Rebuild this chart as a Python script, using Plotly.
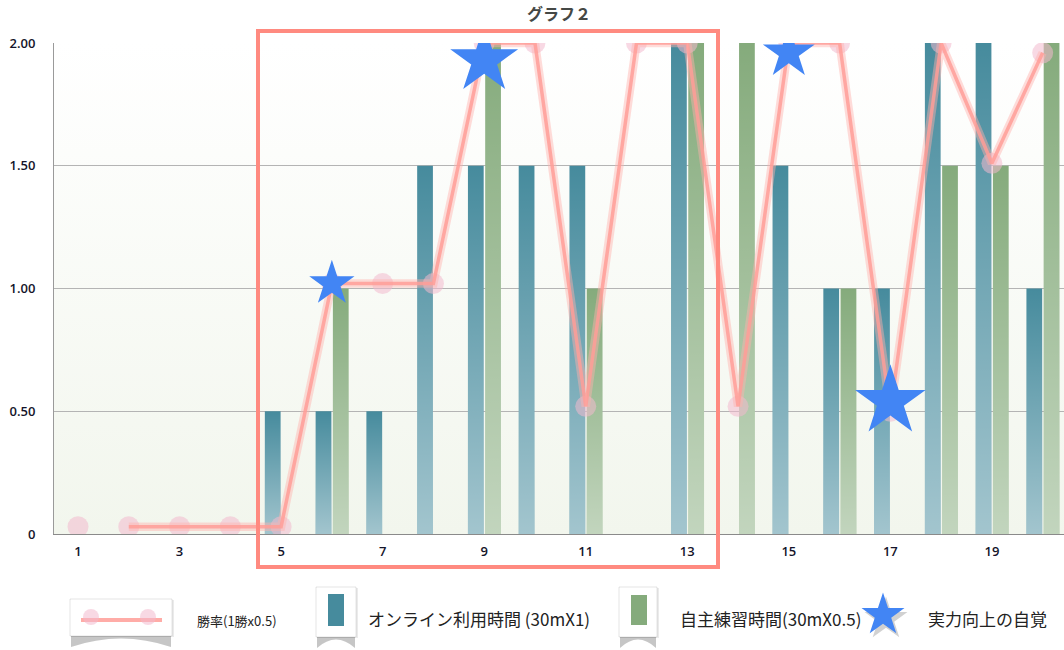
import base64
import math
import plotly.graph_objects as go

# ---- data -------------------------------------------------------------
SESSIONS = list(range(1, 21))
X_TICKS = [1, 3, 5, 7, 9, 11, 13, 15, 17, 19]
Y_TICKS = [0, 0.5, 1.0, 1.5, 2.0]
Y_TICK_TEXT = ["0", "0.50", "1.00", "1.50", "2.00"]

ONLINE_TIME = [0, 0, 0, 0, 0.5, 0.5, 0.5, 1.5, 1.5, 1.5, 1.5, 0, 2, 0, 1.5, 1, 1, 2, 2, 1]
PRACTICE_TIME = [0, 0, 0, 0, 0, 1, 0, 0, 2, 0, 1, 0, 2, 2, 0, 1, 0, 1.5, 1.5, 2]
WIN_RATE = [0.03, 0.03, 0.03, 0.03, 0.03, 1.02, 1.02, 1.02, 2.0, 2.0,
            0.52, 2.0, 2.0, 0.52, 2.0, 2.0, 0.5, 2.0, 1.51, 1.96]

STAR_SESSIONS = [6, 9, 15, 17]
STAR_LEVEL = [1.02, 1.93, 1.96, 0.54]

TITLE = "グラフ２"
LEGEND_LABELS = ["勝率(1勝x0.5)", "オンライン利用時間 (30mX1)", "自主練習時間(30mX0.5)", "実力向上の自覚"]

# ---- styling ----------------------------------------------------------
STAR_SIZES = [34, 51, 39, 53]
BLUE = "rgb(70,139,157)"
GREEN = "rgb(133,171,124)"
PINK_CORE = "rgba(255,158,152,0.85)"
PINK_GLOW = "rgba(255,178,172,0.45)"
PINK_DOT = "rgba(242,185,205,0.55)"
STAR_BLUE = "#4285F4"
BOX_RED = "#FF8A80"
BAR_W = 0.31
BLUE_OFF = -0.32
GREEN_OFF = 0.02
SHEEN = [[0, "rgba(255,255,255,0.5)"], [1, "rgba(255,255,255,0)"]]

W, H = 1064, 650
M_L, M_R, M_T, M_B = 54, 0, 43, 116
PLOT_W = W - M_L - M_R
PLOT_H = H - M_T - M_B
TICK_FONT = dict(family="Open Sans", size=13, color="#14142a", weight=600)
CJK = "Noto Sans CJK JP"


def px(x, y):
    """Pixel position on the page -> paper coordinates."""
    return (x - M_L) / PLOT_W, (H - M_B - y) / PLOT_H


fig = go.Figure()

# bars
fig.add_trace(go.Bar(x=SESSIONS, y=ONLINE_TIME, width=BAR_W, offset=BLUE_OFF,
                     marker=dict(color=BLUE, line=dict(width=0)), showlegend=False,
                     name=LEGEND_LABELS[1]))
fig.add_trace(go.Bar(x=SESSIONS, y=PRACTICE_TIME, width=BAR_W, offset=GREEN_OFF,
                     marker=dict(color=GREEN, line=dict(width=0)), showlegend=False,
                     name=LEGEND_LABELS[2]))


# vertical sheen on each bar (lighter toward the base), grouped by bar height
def add_sheen(values, offset):
    for h in sorted({v for v in values if v > 0}):
        xs, ys = [], []
        for s, v in zip(SESSIONS, values):
            if v == h:
                x0, x1 = s + offset, s + offset + BAR_W
                xs += [x0, x1, x1, x0, x0, None]
                ys += [0, 0, h, h, 0, None]
        fig.add_trace(go.Scatter(x=xs, y=ys, mode="lines", fill="toself",
                                 line=dict(width=0, color="rgba(0,0,0,0)"),
                                 fillgradient=dict(type="vertical", colorscale=SHEEN),
                                 hoverinfo="skip", showlegend=False))


add_sheen(ONLINE_TIME, BLUE_OFF)
add_sheen(PRACTICE_TIME, GREEN_OFF)

# win-rate dots and line
fig.add_trace(go.Scatter(x=SESSIONS, y=WIN_RATE, mode="markers",
                         marker=dict(size=21, color=PINK_DOT, line=dict(width=0)),
                         showlegend=False, hoverinfo="skip"))
fig.add_trace(go.Scatter(x=SESSIONS[1:], y=WIN_RATE[1:], mode="lines",
                         line=dict(color=PINK_GLOW, width=8.5), showlegend=False,
                         hoverinfo="skip"))
fig.add_trace(go.Scatter(x=SESSIONS[1:], y=WIN_RATE[1:], mode="lines",
                         line=dict(color=PINK_CORE, width=3.5), showlegend=False,
                         name=LEGEND_LABELS[0]))

# stars
fig.add_trace(go.Scatter(x=STAR_SESSIONS, y=STAR_LEVEL, mode="markers",
                         marker=dict(symbol="star", size=STAR_SIZES, color=STAR_BLUE,
                                     opacity=1, line=dict(width=0)),
                         showlegend=False, name=LEGEND_LABELS[3]))

# ---- plot background gradient -----------------------------------------
bg_svg = ('<svg xmlns="http://www.w3.org/2000/svg" width="4" height="100" '
          'viewBox="0 0 4 100" preserveAspectRatio="none"><defs>'
          '<linearGradient id="g" x1="0" y1="0" x2="0" y2="1">'
          '<stop offset="0" stop-color="#ffffff"/><stop offset="1" stop-color="#f2f6ed"/>'
          '</linearGradient></defs><rect width="4" height="100" fill="url(#g)"/></svg>')
bg_src = "data:image/svg+xml;base64," + base64.b64encode(bg_svg.encode()).decode()

shapes = []
annotations = []

# highlight box around sessions 5-13
bx0, by0 = px(258, 567)
bx1, by1 = px(718, 31)
shapes.append(dict(type="rect", xref="paper", yref="paper", x0=bx0, y0=by0, x1=bx1, y1=by1,
                   line=dict(color=BOX_RED, width=4), fillcolor="rgba(0,0,0,0)", layer="above"))


# ---- legend ------------------------------------------------------------
def prect(x0, y0, x1, y1, **kw):
    a, b = px(x0, y1)
    c, d = px(x1, y0)
    shapes.append(dict(type="rect", xref="paper", yref="paper", x0=a, y0=b, x1=c, y1=d, **kw))


def ppath(points, **kw):
    parts = []
    for i, (x, y) in enumerate(points):
        u, v = px(x, y)
        parts.append(("M" if i == 0 else "L") + f"{u:.5f},{v:.5f}")
    shapes.append(dict(type="path", xref="paper", yref="paper",
                       path=" ".join(parts) + " Z", **kw))


def curl_shadow(x0, x1, yb, depth=11):
    xm = (x0 + x1) / 2
    u0, v0 = px(x0, yb)
    u1, v1 = px(x1, yb)
    ue, ve = px(x1, yb + depth)
    uc, vc = px(xm, yb - depth * 0.55)
    us, vs = px(x0, yb + depth)
    path = (f"M{u0:.5f},{v0:.5f} L{u1:.5f},{v1:.5f} L{ue:.5f},{ve:.5f} "
            f"Q{uc:.5f},{vc:.5f} {us:.5f},{vs:.5f} Z")
    shapes.append(dict(type="path", xref="paper", yref="paper", path=path,
                       fillcolor="rgba(120,120,120,0.42)", line=dict(width=0)))


def legend_box(x0, y0, x1, y1):
    curl_shadow(x0 + 1, x1 - 1, y1)
    prect(x0 + 1, y0 + 1, x1 + 2, y1 + 1, fillcolor="rgba(0,0,0,0.08)", line=dict(width=0))
    prect(x0, y0, x1, y1, fillcolor="white", line=dict(color="rgba(0,0,0,0.10)", width=1))


def star_points(cx, cy, r_out):
    pts = []
    r_in = r_out * 0.382
    for k in range(10):
        ang = math.radians(-90 + 36 * k)
        r = r_out if k % 2 == 0 else r_in
        pts.append((cx + r * math.cos(ang), cy + r * math.sin(ang)))
    return pts


# item 1: win rate
legend_box(70, 599, 172, 636)
a, b = px(81, 620)
c, d = px(162, 620)
shapes.append(dict(type="line", xref="paper", yref="paper", x0=a, y0=b, x1=c, y1=d,
                   line=dict(color=PINK_CORE, width=4)))
for cx in (91, 148):
    a, b = px(cx - 8, 625)
    c, d = px(cx + 8, 609)
    shapes.append(dict(type="circle", xref="paper", yref="paper", x0=a, y0=b, x1=c, y1=d,
                       fillcolor=PINK_DOT, line=dict(width=0)))

# item 2: online time
legend_box(316, 587, 356, 637)
prect(328, 594, 344, 626, fillcolor=BLUE, line=dict(width=0))

# item 3: practice time
legend_box(619, 587, 657, 637)
prect(631, 595, 647, 625, fillcolor=GREEN, line=dict(width=0))

# item 4: star
ppath(star_points(886, 619, 22.6), fillcolor="rgba(0,0,0,0.18)", line=dict(width=0))
ppath(star_points(883, 615, 22.6), fillcolor=STAR_BLUE, line=dict(width=0))

label_specs = [(195, 620, 13), (366, 618, 17), (678, 618, 17), (926, 618, 17)]
for text, (lx, ly, fs) in zip(LEGEND_LABELS, label_specs):
    u, v = px(lx, ly)
    annotations.append(dict(text=text, xref="paper", yref="paper", x=u, y=v,
                            xanchor="left", yanchor="middle", showarrow=False,
                            font=dict(family=CJK, size=fs, color="#222222")))

fig.update_layout(
    width=W, height=H,
    margin=dict(l=M_L, r=M_R, t=M_T, b=M_B, pad=0),
    paper_bgcolor="white", plot_bgcolor="white",
    font=dict(family=CJK, color="#222222"),
    title=dict(text=f"<b>{TITLE}</b>", x=0.5, xref="paper", xanchor="center",
               y=1 - 14 / H, yref="container", yanchor="middle",
               font=dict(family=CJK, size=16, color="#454845")),
    barmode="overlay",
    showlegend=False,
    images=[dict(source=bg_src, xref="paper", yref="paper", x=0, y=1, sizex=1, sizey=1,
                 sizing="stretch", xanchor="left", yanchor="top", layer="below")],
    shapes=shapes,
    annotations=annotations,
    xaxis=dict(range=[0.527, 20.42], tickvals=X_TICKS, ticktext=[str(t) for t in X_TICKS],
               showgrid=False, zeroline=False, showline=True, linecolor="#8a8a8a",
               linewidth=1, ticks="", ticklabelstandoff=5, tickfont=TICK_FONT),
    yaxis=dict(range=[0, 2], tickvals=Y_TICKS, ticktext=Y_TICK_TEXT,
               showgrid=True, gridcolor="#b4b4b4", gridwidth=1, zeroline=False,
               showline=True, linecolor="#9a9a9a", linewidth=1, ticks="",
               ticklabelstandoff=15, tickfont=TICK_FONT),
)

fig.write_html("out.html")
